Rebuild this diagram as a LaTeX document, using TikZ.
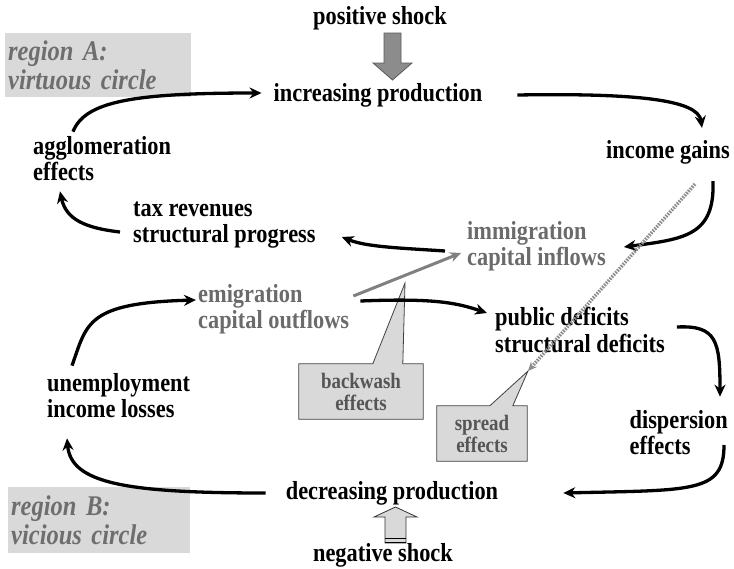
\documentclass[tikz,border=0pt]{standalone}
\usepackage{fontspec}
\setmainfont[FakeStretch=0.86]{Liberation Serif}
\usetikzlibrary{arrows.meta,backgrounds}

\definecolor{boxgray}{HTML}{D9D9D9}
\definecolor{txtgray}{HTML}{6B6B6B}
\definecolor{reggray}{HTML}{6E6E6E}
\definecolor{callgray}{HTML}{555555}

\tikzset{
  lbl/.style={font=\fontsize{26}{26}\selectfont\bfseries, inner sep=0pt, align=left},
  lblgray/.style={lbl, text=txtgray},
  regbox/.style={fill=boxgray, text=reggray, align=left, inner xsep=3pt, inner ysep=0pt,
    anchor=north west, font=\fontsize{28.5}{29}\selectfont\bfseries\itshape},
  calltext/.style={font=\fontsize{22}{22}\selectfont\bfseries, text=callgray, align=center, inner sep=0pt},
  callshape/.style={fill=boxgray, draw=black!75, line width=0.8pt, line join=miter},
  flow/.style={line width=3.3pt, -{Stealth[length=12pt,width=11pt]}},
  washflow/.style={line width=3pt, draw=gray, -{Stealth[length=11pt,width=10pt]}},
  spreadflow/.style={line width=3.5pt, draw=black!45, dash pattern=on 1.6pt off 1.2pt,
    -{Stealth[length=9pt,width=8pt,fill=black!40]}},
}

\begin{document}
\begin{tikzpicture}[x=1pt,y=-1pt]
\useasboundingbox (0,0) rectangle (734,568);

\node[regbox, text width=180pt, minimum height=64pt] (regA) at (5,33) {region A:\\virtuous circle};
\node[regbox, text width=176pt, minimum height=66pt] (regB) at (8,487) {region B:\\vicious circle};

\node[lbl] (pos) at (380,18) {positive shock};
\node[lbl] (inc) at (378,95) {increasing production};
\node[lbl, anchor=east] (gain) at (730,152) {income gains};
\node[lbl, anchor=west] (agg) at (33,159) {agglomeration\\effects};
\node[lbl, anchor=west] (tax) at (133,225) {tax revenues\\structural progress};
\node[lblgray, anchor=west] (immi) at (467,246) {immigration\\capital inflows};
\node[lblgray, anchor=west] (emi) at (198,309) {emigration\\capital outflows};
\node[lbl, anchor=west] (pub) at (495,330) {public deficits\\structural deficits};
\node[lbl, anchor=west] (unemp) at (47,396) {unemployment\\income losses};
\node[lbl, anchor=east] (disp) at (728,433) {dispersion\\effects};
\node[lbl] (dec) at (392,493) {decreasing production};
\node[lbl] (neg) at (383,555) {negative shock};

\node[calltext, minimum width=124pt, minimum height=55pt] (wash) at (361,391.5) {backwash\\effects};
\node[calltext, minimum width=90pt, minimum height=55pt] (spread) at (482,433.5) {spread\\effects};
\coordinate (washtip) at (405,283);
\coordinate (spreadtip) at (528,371);

\begin{scope}[on background layer]
\draw[callshape] (wash.north west) -- ++(74,0) -- (washtip) -- ([shift={(104,0)}]wash.north west)
  -- (wash.north east) -- (wash.south east) -- (wash.south west) -- cycle;
\draw[callshape] (spread.north west) -- ++(53,0) -- (spreadtip) -- ([shift={(76,0)}]spread.north west)
  -- (spread.north east) -- (spread.south east) -- (spread.south west) -- cycle;
\end{scope}

% shocks
\draw[fill=black!45, draw=black!65, line width=0.8pt, line join=miter]
  (384,33) -- (401,33) -- (401,63) -- (412,63) -- (392.5,80) -- (373,63) -- (384,63) -- cycle;
\draw[fill=boxgray, draw=black!80, line width=0.8pt, line join=miter]
  (385,543) -- (406,543) -- (406,517) -- (417,517) -- (395.5,507) -- (374,517) -- (385,517) -- cycle;
\draw[line width=1.2pt] (385,538.5) -- (406,538.5) (385,542.5) -- (406,542.5);

% virtuous circle
\draw[flow] ([shift={(40,-5)}]agg.north west) .. controls +(12,-30) and +(-130,0) .. ([shift={(-12,-2)}]inc.west);
\draw[flow] ([shift={(35,0)}]inc.east) .. controls +(120,-2) and +(-4,-28) .. ([shift={(34,-12)}]gain.north);
\draw[flow] ([shift={(-17,17)}]gain.south east) .. controls +(2,55) and +(60,-8) .. ([shift={(18,1)}]immi.east);
\draw[flow] ([shift={(-22,5)}]immi.west) .. controls +(-45,-3) and +(25,10) .. ([shift={(26,12)}]tax.east);
\draw[flow] ([shift={(-13,7)}]tax.west) .. controls +(-35,-4) and +(6,28) .. ([shift={(27,10)}]agg.south west);

% vicious circle
\draw[flow] ([shift={(25,-8)}]unemp.north west) .. controls +(15,-42) and +(-110,3) .. ([shift={(-2,-9)}]emi.west);
\draw[flow] ([shift={(11,-8)}]emi.east) .. controls +(75,-3) and +(-30,-10) .. ([shift={(-8,-17)}]pub.west);
\draw[flow] ([shift={(12,-3)}]pub.east) .. controls +(40,-2) and +(0,-55) .. ([shift={(-8,-14)}]disp.north east);
\draw[flow] ([shift={(-4,12)}]disp.east) .. controls +(0,48) and +(130,-3) .. ([shift={(65,0)}]dec.east);
\draw[flow] ([shift={(-20,0)}]dec.west) .. controls +(-140,0) and +(4,45) .. ([shift={(20,20)}]unemp.south west);

% backwash and spread
\draw[washflow] ([shift={(4,-13)}]emi.east) -- ([shift={(-6,7)}]immi.west);
\draw[spreadflow] ([shift={(27,20)}]gain.south) -- (spreadtip);
\end{tikzpicture}
\end{document}
